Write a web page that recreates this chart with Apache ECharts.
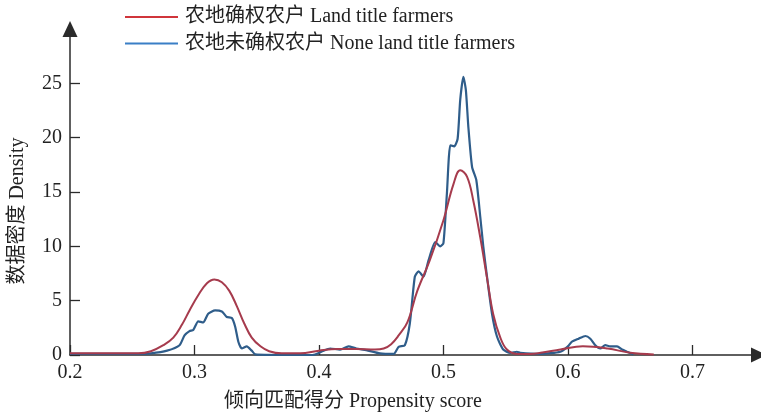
<!DOCTYPE html>
<html><head><meta charset="utf-8">
<script src="https://cdn.jsdelivr.net/npm/echarts@6/dist/echarts.min.js"></script>
<style>html,body{margin:0;padding:0;background:#fff}#c{width:761px;height:415px}</style>
</head><body><div id="c"></div>
<script>
const seriesNames = ['农地确权农户 Land title farmers', '农地未确权农户 None land title farmers'];
const xTicks = [0.2, 0.3, 0.4, 0.5, 0.6, 0.7];
const yTicks = [0, 5, 10, 15, 20, 25];
const xAxisTitle = '倾向匹配得分 Propensity score';
const yAxisTitle = '数据密度 Density';

const redX = [0.200,0.230,0.255,0.265,0.275,0.283,0.290,0.296,0.303,0.310,0.316,0.322,0.328,0.334,0.340,0.346,0.353,0.360,0.370,0.385,0.400,0.415,0.430,0.445,0.452,0.458,0.464,0.471,0.479,0.489,0.500,0.508,0.5135,0.519,0.524,0.5296,0.535,0.540,0.5457,0.551,0.559,0.570,0.578,0.594,0.612,0.632,0.650,0.669];
const redY = [0.15,0.15,0.15,0.35,0.9,1.6,2.8,4.1,5.5,6.6,6.95,6.7,5.9,4.5,2.9,1.6,0.8,0.35,0.15,0.15,0.4,0.55,0.55,0.5,0.6,1.0,1.8,3.0,5.9,8.7,12.4,15.7,17.0,16.4,14.2,10.8,7.1,3.75,1.6,0.5,0.1,0.1,0.2,0.5,0.8,0.6,0.2,0.05];

const blueX = [0.200,0.255,0.265,0.278,0.288,0.292,0.296,0.299,0.303,0.307,0.311,0.3166,0.322,0.326,0.330,0.3327,0.3353,0.338,0.342,0.346,0.349,0.370,0.395,0.402,0.409,0.417,0.4237,0.430,0.438,0.449,0.460,0.464,0.469,0.473,0.477,0.480,0.484,0.488,0.4934,0.4974,0.500,0.5028,0.5055,0.5087,0.5114,0.5135,0.516,0.518,0.520,0.523,0.5264,0.5296,0.532,0.535,0.539,0.543,0.548,0.5537,0.559,0.5617,0.578,0.594,0.600,0.603,0.6086,0.614,0.618,0.622,0.626,0.630,0.634,0.6395,0.6435,0.6475,0.6526];
const blueY = [0.1,0.1,0.15,0.4,0.9,1.8,2.2,2.3,3.1,3.0,3.8,4.1,4.0,3.5,3.4,2.6,1.2,0.6,0.8,0.4,0.05,0.0,0.0,0.3,0.6,0.5,0.8,0.6,0.45,0.15,0.1,0.75,0.9,2.9,7.2,7.7,7.2,8.7,10.4,10.0,10.3,14.9,19.3,19.2,19.9,23.5,25.6,24.4,21.0,17.3,16.1,12.7,10.0,7.2,3.8,1.7,0.5,0.2,0.3,0.2,0.1,0.3,0.8,1.2,1.5,1.75,1.5,0.9,0.6,0.9,0.8,0.8,0.5,0.3,0.05];

const FONT = "'Liberation Serif', 'Noto Sans CJK SC', serif";
const axisCol = '#2b2b2b';

const chart = echarts.init(document.getElementById('c'), null, {renderer: 'canvas'});
chart.setOption({
  animation: false,
  backgroundColor: '#fff',
  grid: {left: 70, right: 2, top: 29, bottom: 60, containLabel: false},
  legend: {
    orient: 'vertical', left: 120, top: 2, itemWidth: 53, itemHeight: 2, itemGap: 6.6,
    icon: 'rect',
    textStyle: {fontFamily: FONT, fontSize: 20, color: '#222', lineHeight: 20, padding: [0,0,0,2]},
    data: [
      {name: seriesNames[0], itemStyle: {color: '#d0353b'}},
      {name: seriesNames[1], itemStyle: {color: '#3a7fc6'}}
    ]
  },
  xAxis: {
    type: 'value', min: 0.2, max: 0.7535,
    axisLine: {show: true, lineStyle: {color: axisCol, width: 1.5}, symbol: ['none', 'triangle'], symbolSize: [15, 16], symbolOffset: [0, 0]},
    axisTick: {show: true, inside: true, length: 10, lineStyle: {color: axisCol, width: 1.3}, customValues: xTicks},
    axisLabel: {customValues: xTicks, fontFamily: FONT, fontSize: 20, color: '#222', margin: 8, formatter: v => v.toFixed(1)},
    splitLine: {show: false}
  },
  yAxis: {
    type: 'value', min: 0, max: 30,
    axisLine: {show: true, lineStyle: {color: axisCol, width: 1.5}, symbol: ['none', 'triangle'], symbolSize: [15, 16], symbolOffset: [0, 0]},
    axisTick: {show: true, inside: true, length: 10, lineStyle: {color: axisCol, width: 1.3}, customValues: yTicks},
    axisLabel: {customValues: yTicks, fontFamily: FONT, fontSize: 20, color: '#222', margin: 8},
    splitLine: {show: false}
  },
  graphic: [
    {type: 'text', x: 353, y: 402, style: {text: xAxisTitle, font: '20px ' + FONT, fill: '#222', textAlign: 'center', textVerticalAlign: 'middle'}},
    {type: 'text', x: 18, y: 211, rotation: Math.PI / 2, style: {text: yAxisTitle, font: '20px ' + FONT, fill: '#222', textAlign: 'center', textVerticalAlign: 'middle'}}
  ],
  series: [
    {name: seriesNames[0], type: 'line', smooth: 0.4, showSymbol: false, z: 3,
     lineStyle: {color: '#a63b4d', width: 2}, itemStyle: {color: '#a63b4d'},
     data: redX.map((x, i) => [x, redY[i]])},
    {name: seriesNames[1], type: 'line', smooth: 0.2, showSymbol: false, z: 2,
     lineStyle: {color: '#2f5d8a', width: 2.2}, itemStyle: {color: '#2f5d8a'},
     data: blueX.map((x, i) => [x, blueY[i]])}
  ]
});
</script></body></html>
